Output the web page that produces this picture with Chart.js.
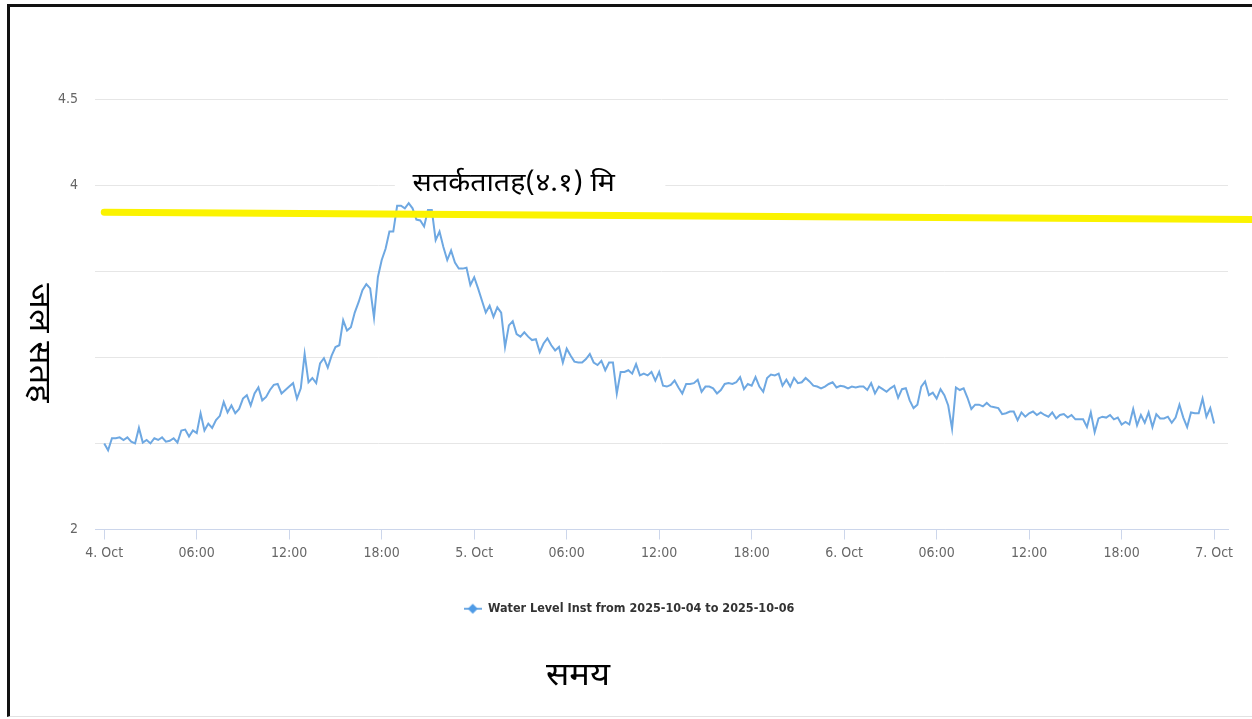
<!DOCTYPE html>
<html>
<head>
<meta charset="utf-8">
<title>Water Level</title>
<script src="https://cdn.jsdelivr.net/npm/chart.js@4.4.1/dist/chart.umd.min.js"></script>
<style>
  html, body { margin: 0; padding: 0; background: #fff; }
  #wrap { position: relative; width: 1252px; height: 719px; overflow: hidden; }
  #frame {
    position: absolute; left: 7px; top: 4px; width: 1270px; height: 709px;
    border-left: 3px solid #111; border-top: 3px solid #111; border-bottom: 1px solid #e2e2e2;
    pointer-events: none;
  }
</style>
</head>
<body>
<div id="wrap">
  <canvas id="chart" width="1252" height="719"></canvas>
  <div id="frame"></div>
</div>
<script>
// 15 minute readings, 4 Oct 00:00 -> 7 Oct 00:00 (hours from start)
const stepHours = 0.25;
const levels = [
  2.50, 2.46, 2.53, 2.53, 2.535, 2.52, 2.535, 2.51, 2.50, 2.59,
  2.505, 2.52, 2.50, 2.53, 2.52, 2.535, 2.51, 2.515, 2.53, 2.505,
  2.575, 2.58, 2.54, 2.575, 2.56, 2.675, 2.575, 2.615, 2.59, 2.635,
  2.66, 2.74, 2.68, 2.72, 2.675, 2.70, 2.76, 2.78, 2.72, 2.79,
  2.825, 2.75, 2.77, 2.81, 2.84, 2.845, 2.79, 2.81, 2.83, 2.85,
  2.76, 2.82, 3.02, 2.855, 2.88, 2.85, 2.965, 2.995, 2.94, 3.01,
  3.06, 3.07, 3.215, 3.155, 3.175, 3.26, 3.32, 3.39, 3.425, 3.40,
  3.23, 3.465, 3.565, 3.63, 3.73, 3.73, 3.88, 3.88, 3.865, 3.895,
  3.865, 3.80, 3.795, 3.76, 3.855, 3.855, 3.68, 3.73, 3.64, 3.565,
  3.62, 3.55, 3.515, 3.515, 3.52, 3.42, 3.465, 3.40, 3.33, 3.26,
  3.30, 3.235, 3.29, 3.26, 3.06, 3.185, 3.21, 3.135, 3.12, 3.145,
  3.12, 3.10, 3.105, 3.03, 3.08, 3.11, 3.07, 3.04, 3.06, 2.97,
  3.05, 3.01, 2.975, 2.97, 2.97, 2.99, 3.02, 2.97, 2.955, 2.98,
  2.925, 2.97, 2.97, 2.79, 2.915, 2.915, 2.925, 2.905, 2.96, 2.895,
  2.905, 2.895, 2.915, 2.865, 2.915, 2.835, 2.83, 2.84, 2.865, 2.825,
  2.79, 2.845, 2.845, 2.85, 2.87, 2.80, 2.83, 2.83, 2.82, 2.79,
  2.81, 2.845, 2.85, 2.845, 2.855, 2.885, 2.815, 2.845, 2.835, 2.885,
  2.83, 2.80, 2.88, 2.90, 2.895, 2.905, 2.835, 2.87, 2.83, 2.88,
  2.85, 2.855, 2.88, 2.86, 2.835, 2.83, 2.82, 2.83, 2.845, 2.855,
  2.825, 2.835, 2.83, 2.82, 2.83, 2.825, 2.83, 2.83, 2.81, 2.85,
  2.79, 2.83, 2.815, 2.80, 2.82, 2.835, 2.765, 2.815, 2.82, 2.75,
  2.705, 2.725, 2.83, 2.86, 2.78, 2.795, 2.76, 2.815, 2.78, 2.72,
  2.585, 2.825, 2.81, 2.82, 2.765, 2.70, 2.725, 2.725, 2.715, 2.735,
  2.715, 2.71, 2.705, 2.67, 2.675, 2.685, 2.685, 2.635, 2.68, 2.655,
  2.675, 2.685, 2.665, 2.68, 2.665, 2.655, 2.68, 2.645, 2.665, 2.67,
  2.65, 2.665, 2.64, 2.64, 2.64, 2.595, 2.68, 2.565, 2.645, 2.655,
  2.65, 2.665, 2.64, 2.65, 2.61, 2.625, 2.61, 2.70, 2.605, 2.665,
  2.62, 2.68, 2.595, 2.67, 2.645, 2.645, 2.655, 2.62, 2.65, 2.725,
  2.65, 2.595, 2.68, 2.675, 2.675, 2.76, 2.655, 2.705, 2.615
];

// yellow alert line (as drawn, runs a little past the end of the axis)
const alertHours = [0, 74.5];
const alertLevels = [3.843, 3.80];
const alertText = 'सतर्कतातह(४.१) मि';

const tickHours = [0, 6, 12, 18, 24, 30, 36, 42, 48, 54, 60, 66, 72];
const tickLabels = ['4. Oct', '06:00', '12:00', '18:00', '5. Oct', '06:00', '12:00',
                    '18:00', '6. Oct', '06:00', '12:00', '18:00', '7. Oct'];
const yLabelled = [2, 4, 4.5];

const seriesName = 'Water Level Inst from 2025-10-04 to 2025-10-06';
const yTitle = 'जल सतह';
const xTitle = 'समय';

const narrow = '"Liberation Sans Narrow", "DejaVu Sans Condensed", "Liberation Sans", sans-serif';
const deva = '"Noto Sans Devanagari", "Noto Serif Devanagari", "Lohit Devanagari", FreeSerif, "Noto Sans", sans-serif';
const blue = '#6ea8e2';

// legend marker: short line with a diamond, like the original
const marker = document.createElement('canvas');
marker.width = 18; marker.height = 12;
(function () {
  const c = marker.getContext('2d');
  c.strokeStyle = blue; c.lineWidth = 2;
  c.beginPath(); c.moveTo(0, 6); c.lineTo(18, 6); c.stroke();
  c.fillStyle = '#4f9be6';
  c.beginPath(); c.moveTo(9, 1); c.lineTo(14, 6); c.lineTo(9, 11); c.lineTo(4, 6); c.closePath(); c.fill();
})();

// draw text stretched a little along its reading direction
function wideText(ctx, text, x, y, stretch) {
  ctx.save();
  ctx.translate(x, y);
  ctx.scale(stretch, 1);
  ctx.fillText(text, 0, 0);
  ctx.restore();
}

const textPlugin = {
  id: 'texts',
  beforeDatasetsDraw(chart) {
    // white box behind the alert label, hides the grid line
    const { ctx, scales: { x, y } } = chart;
    const x0 = x.getPixelForValue(18.85), x1 = x.getPixelForValue(36.4);
    const yy = y.getPixelForValue(4);
    ctx.save();
    ctx.fillStyle = '#fff';
    ctx.fillRect(x0, yy - 16, x1 - x0, 30);
    ctx.restore();
  },
  afterDraw(chart) {
    const { ctx, scales: { x, y } } = chart;
    ctx.save();
    ctx.fillStyle = '#000';
    ctx.textBaseline = 'middle';
    ctx.font = '26px ' + deva;
    ctx.textAlign = 'left';
    wideText(ctx, alertText, x.getPixelForValue(20), y.getPixelForValue(4) + 1, 1.1);

    ctx.font = '32px ' + deva;
    ctx.textAlign = 'center';
    wideText(ctx, xTitle, 578, 679, 1.08);

    ctx.translate(36, 343);
    ctx.rotate(Math.PI / 2);
    ctx.font = '30px ' + deva;
    wideText(ctx, yTitle, 0, 0, 1.15);
    ctx.restore();
  }
};

Chart.defaults.font.family = narrow;

new Chart(document.getElementById('chart'), {
  type: 'line',
  data: {
    datasets: [
      {
        label: 'alert',
        data: alertHours.map((h, i) => ({ x: h, y: alertLevels[i] })),
        borderColor: '#fbf300',
        borderWidth: 7,
        borderCapStyle: 'round',
        pointRadius: 0,
        clip: false,
        order: 0
      },
      {
        label: seriesName,
        data: levels.map((v, i) => ({ x: i * stepHours, y: v })),
        borderColor: blue,
        backgroundColor: blue,
        borderWidth: 2,
        pointRadius: 0,
        pointStyle: marker,
        tension: 0,
        order: 1
      }
    ]
  },
  options: {
    responsive: false,
    animation: false,
    layout: { padding: { left: 30, right: 24, top: 99, bottom: 94 } },
    plugins: {
      tooltip: { enabled: false },
      legend: {
        position: 'bottom',
        labels: {
          usePointStyle: true,
          pointStyleWidth: 18,
          padding: 10,
          color: '#333',
          font: { family: narrow, size: 12.5, weight: 'bold' },
          filter: item => item.datasetIndex === 1
        }
      }
    },
    scales: {
      x: {
        type: 'linear',
        min: -0.6,
        max: 72.9,
        afterBuildTicks: s => { s.ticks = tickHours.map(v => ({ value: v })); },
        afterFit: s => { s.height = 63; },
        grid: { drawOnChartArea: false, drawTicks: true, tickLength: 10, color: '#ccd6eb' },
        border: { display: true, color: '#ccd6eb' },
        ticks: {
          autoSkip: false,
          maxRotation: 0,
          padding: 5,
          color: '#666',
          font: { size: 14 },
          callback: v => tickLabels[tickHours.indexOf(v)]
        }
      },
      y: {
        min: 2,
        max: 4.5,
        afterFit: s => { s.width = 65; },
        grid: { color: '#e6e6e6', drawTicks: false },
        border: { display: false },
        ticks: {
          stepSize: 0.5,
          padding: 17,
          color: '#666',
          font: { size: 14 },
          callback: v => (yLabelled.includes(v) ? String(v) : '')
        }
      }
    }
  },
  plugins: [textPlugin]
});
</script>
</body>
</html>
